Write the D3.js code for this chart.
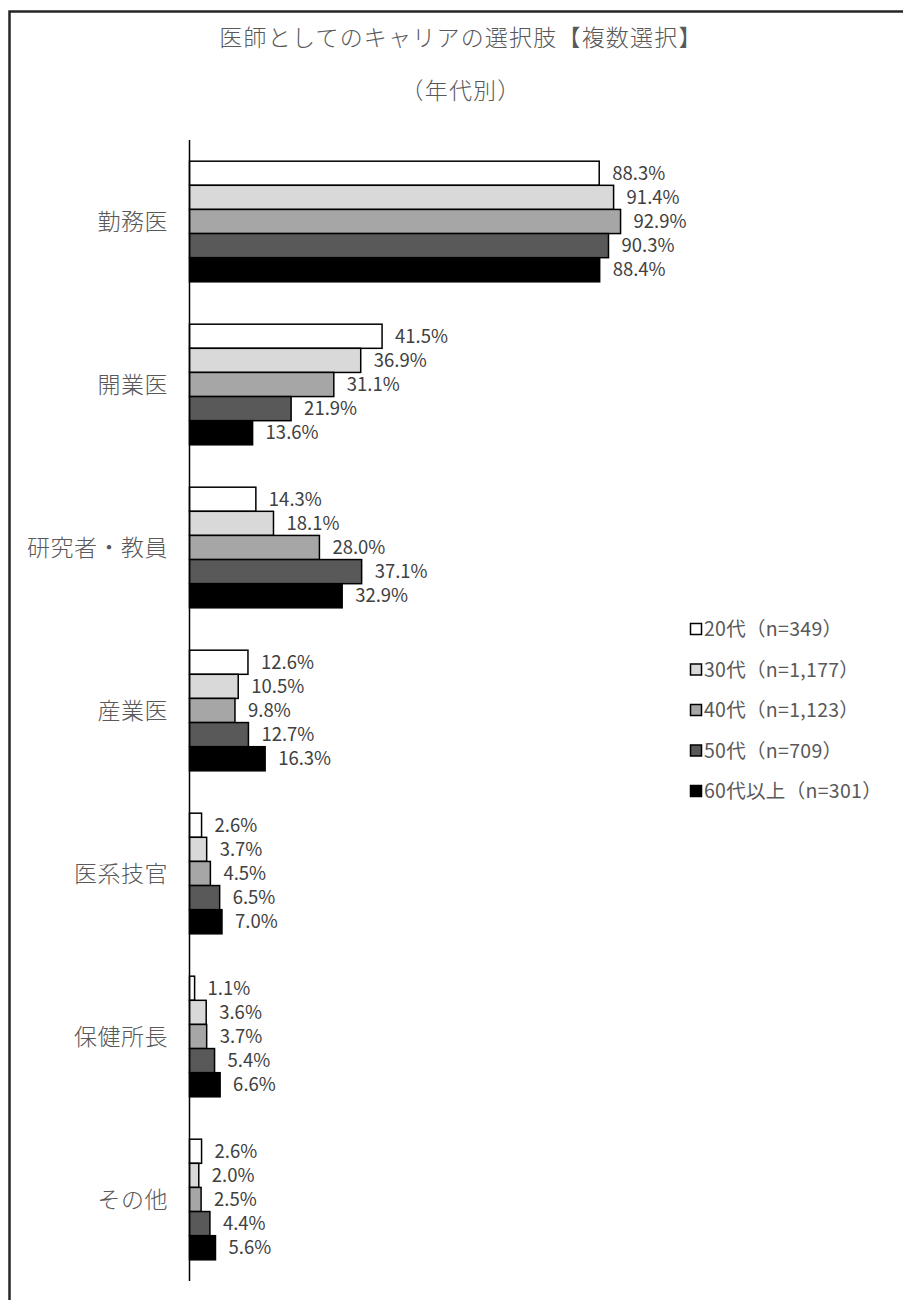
<!DOCTYPE html>
<html>
<head>
<meta charset="utf-8">
<script src="https://cdn.jsdelivr.net/npm/d3@7"></script>
<style>
  body { margin: 0; background: #fff; }
  svg { display: block; font-family: "Noto Sans CJK JP", "Noto Sans", sans-serif; }
</style>
</head>
<body>
<div id="chart"></div>
<script>
const categories = ["勤務医", "開業医", "研究者・教員", "産業医", "医系技官", "保健所長", "その他"];
const seriesNames = ["20代（n=349）", "30代（n=1,177）", "40代（n=1,123）", "50代（n=709）", "60代以上（n=301）"];
const seriesColors = ["#ffffff", "#d9d9d9", "#a6a6a6", "#595959", "#000000"];
const values20 = [88.3, 41.5, 14.3, 12.6, 2.6, 1.1, 2.6];
const values30 = [91.4, 36.9, 18.1, 10.5, 3.7, 3.6, 2.0];
const values40 = [92.9, 31.1, 28.0, 9.8, 4.5, 3.7, 2.5];
const values50 = [90.3, 21.9, 37.1, 12.7, 6.5, 5.4, 4.4];
const values60 = [88.4, 13.6, 32.9, 16.3, 7.0, 6.6, 5.6];
const titleLines = ["医師としてのキャリアの選択肢【複数選択】", "（年代別）"];

const allSeries = [values20, values30, values40, values50, values60];
const width = 903, height = 1300;

const svg = d3.select("#chart").append("svg")
  .attr("width", width)
  .attr("height", height);

// frame (only top and left edges visible in the crop)
svg.append("path")
  .attr("d", `M9.5,${height} V11.5 H${width}`)
  .attr("fill", "none")
  .attr("stroke", "#262626")
  .attr("stroke-width", 2.5);

svg.selectAll("text.title")
  .data(titleLines)
  .join("text")
  .attr("class", "title")
  .attr("x", 461)
  .attr("y", (d, i) => 46 + i * 53)
  .attr("text-anchor", "middle")
  .attr("fill", "#595959")
  .style("font-size", "23px")
  .style("font-weight", 300)
  .style("letter-spacing", "1.2px")
  .text(d => d);

const y = d3.scaleBand()
  .domain(categories)
  .range([140, 1281])
  .paddingInner(0.26)
  .paddingOuter(0.13);

const x = d3.scaleLinear()
  .domain([0, 100])
  .range([189.5, 653.5]);

const inner = d3.scaleBand()
  .domain(d3.range(seriesNames.length))
  .range([0, y.bandwidth()]);

const groups = svg.append("g")
  .selectAll("g")
  .data(categories)
  .join("g")
  .attr("transform", d => `translate(0,${y(d)})`);

groups.selectAll("rect")
  .data((c, ci) => allSeries.map((s, si) => ({ si, v: s[ci] })))
  .join("rect")
  .attr("x", x(0))
  .attr("y", d => inner(d.si))
  .attr("width", d => x(d.v) - x(0))
  .attr("height", inner.bandwidth())
  .attr("fill", d => seriesColors[d.si])
  .attr("stroke", "#000")
  .attr("stroke-width", 1.5);

groups.selectAll("text.val")
  .data((c, ci) => allSeries.map((s, si) => ({ si, v: s[ci] })))
  .join("text")
  .attr("class", "val")
  .attr("x", d => x(d.v) + 13)
  .attr("y", d => inner(d.si) + inner.bandwidth() / 2)
  .attr("dy", "0.36em")
  .attr("fill", "#404040")
  .style("font-size", "18.5px")
  .text(d => d.v.toFixed(1) + "%");

// category axis
svg.append("line")
  .attr("x1", x(0)).attr("x2", x(0))
  .attr("y1", 140).attr("y2", 1281)
  .attr("stroke", "#000")
  .attr("stroke-width", 1.5);

svg.append("g")
  .selectAll("text")
  .data(categories)
  .join("text")
  .attr("x", 168)
  .attr("y", d => y(d) + y.bandwidth() / 2)
  .attr("dy", "0.36em")
  .attr("text-anchor", "end")
  .attr("fill", "#595959")
  .style("font-size", "23px")
  .style("font-weight", 300)
  .style("letter-spacing", "0.5px")
  .text(d => d);

// legend
const legend = svg.append("g")
  .selectAll("g")
  .data(seriesNames)
  .join("g")
  .attr("transform", (d, i) => `translate(690,${629 + i * 40.5})`);

legend.append("rect")
  .attr("x", 0.5).attr("y", -5.5)
  .attr("width", 11).attr("height", 11)
  .attr("fill", (d, i) => seriesColors[i])
  .attr("stroke", "#000")
  .attr("stroke-width", 1.5);

legend.append("text")
  .attr("x", 14)
  .attr("dy", "0.36em")
  .attr("fill", "#595959")
  .style("font-size", "19.5px")
  .style("letter-spacing", "0.3px")
  .text(d => d);
</script>
</body>
</html>
